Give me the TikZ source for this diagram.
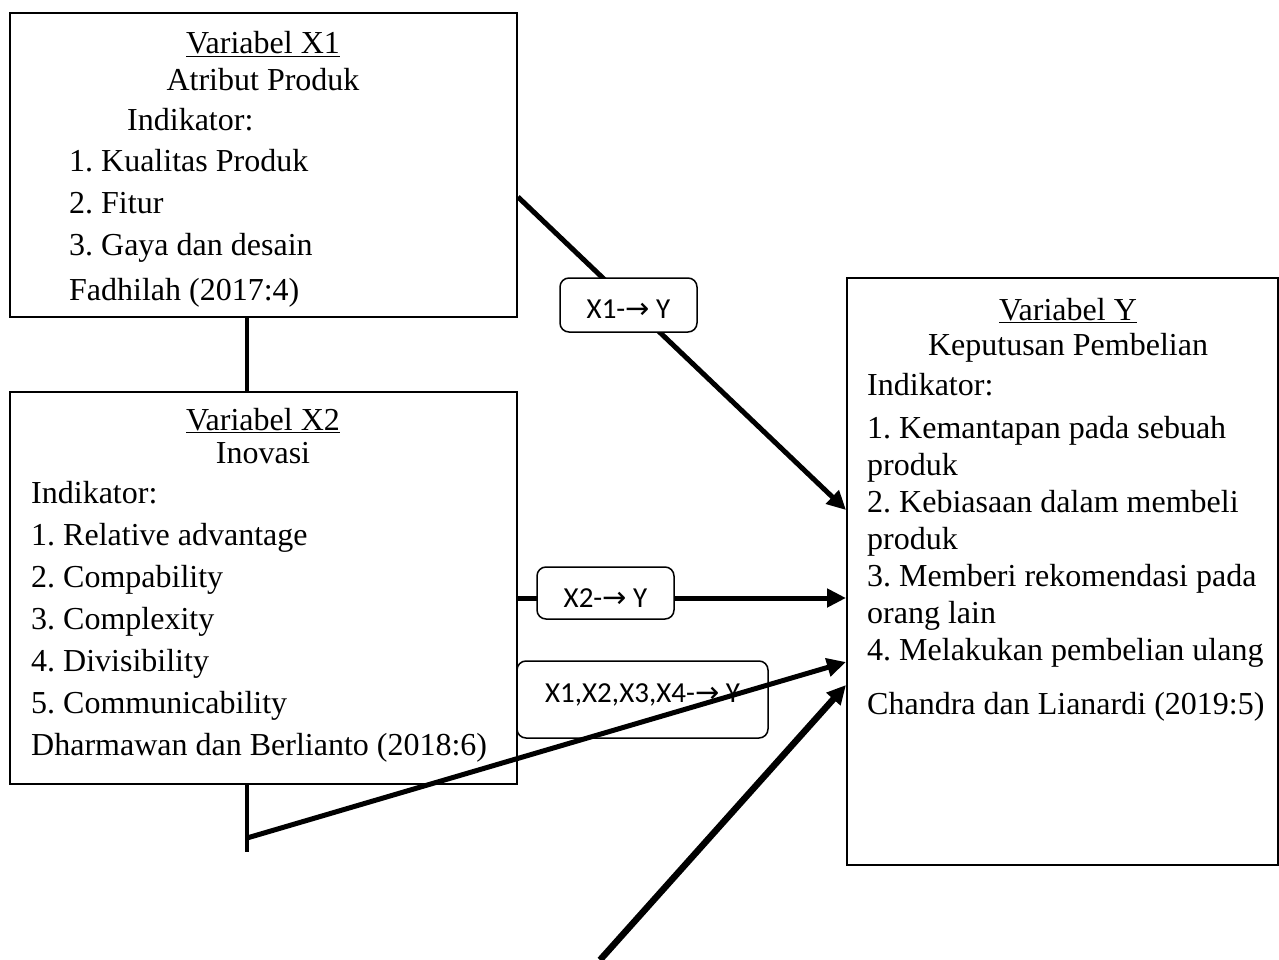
\documentclass[tikz,border=0pt]{standalone}
\usepackage{fontspec}
\setmainfont{Liberation Serif}
\newfontfamily\labelfont{Carlito}
\newfontfamily\arrowfont{DejaVu Sans}
\frenchspacing
\usetikzlibrary{arrows.meta}

\begin{document}
\begin{tikzpicture}[x=1pt, y=-1pt,
        varbox/.style={draw, line width=2pt, inner sep=0pt},
        vartext/.style={inner sep=0pt, font=\fontsize{32}{42}\selectfont},
        pathlabel/.style={draw, line width=1.5pt, rounded corners=9pt, fill=white, inner sep=0pt, font=\labelfont\fontsize{29}{35}\selectfont},
        link/.style={line width=4.5pt},
        effect/.style={line width=5pt, -{Triangle[length=19pt, width=18pt]}}]
        \useasboundingbox (0,0) rectangle (1279,960);

        % boxes, text anchored at the baseline of the last line
        \node[varbox, minimum width=507pt, minimum height=304pt] (x1box) at (263.5,165) {};
        \node[vartext, anchor=base, align=center] (x1title) at (263,91) {\underline{Variabel X1}\\[-5pt]Atribut Produk};
        \node[vartext, anchor=base west, align=left] (x1list) at (69,300) {\hspace*{58pt}Indikator:\\[-1pt]1. Kualitas Produk\\2. Fitur\\3. Gaya dan desain\\[3pt]Fadhilah (2017:4)};

        \node[varbox, minimum width=507pt, minimum height=392pt] (x2box) at (263.5,588) {};
        \node[vartext, anchor=base, align=center] (x2title) at (263,463) {\underline{Variabel X2}\\[-9pt]Inovasi};
        \node[vartext, anchor=base west, align=left] (x2list) at (31,755) {Indikator:\\1. Relative advantage\\2. Compability\\3. Complexity\\4. Divisibility\\5. Communicability\\Dharmawan dan Berlianto (2018:6)};

        \node[varbox, minimum width=431pt, minimum height=587pt] (ybox) at (1062.5,571.5) {};
        \node[vartext, anchor=base, align=center, font=\fontsize{32}{37}\selectfont] (ytitle) at (1068,355) {\underline{Variabel Y}\\[-2pt]Keputusan Pembelian};
        \node[vartext, anchor=base west, align=left, font=\fontsize{32}{37}\selectfont] (ylist) at (867,714) {Indikator:\\[6pt]1. Kemantapan pada sebuah\\produk\\2. Kebiasaan dalam membeli\\produk\\3. Memberi rekomendasi pada\\orang lain\\4. Melakukan pembelian ulang\\[17pt]Chandra dan Lianardi (2019:5)};

        \node[pathlabel, minimum width=251pt, minimum height=77pt, text height=19pt, text depth=14pt] (lab3) at (642.5,699.5) {X1,X2,X3,X4-{\arrowfont →} Y};

        \coordinate (stem) at (247,0);
        \coordinate (joint) at (247,838);
        \coordinate (stemend) at (247,852);
        \coordinate (tail) at (600,960);

        \draw[link] (x1box.south -| stem) -- (x2box.north -| stem);
        \draw[link] (x2box.south -| stem) -- (stemend);
        \draw[effect] ([yshift=-32pt]x1box.east) -- (ybox.west |- 0,510);
        \draw[effect] ([yshift=-10pt]x2box.east) -- (ybox.west |- 0,598);
        \draw[effect] (joint) -- (ybox.west |- 0,662);
        \draw[effect, line width=6.5pt] (tail) -- (ybox.west |- 0,685);

        \node[pathlabel, minimum width=137pt, minimum height=54pt, text height=27pt, text depth=0pt] (lab1) at (628.5,305) {X1-{\arrowfont →} Y};
        \node[pathlabel, minimum width=137pt, minimum height=52pt, text height=28pt, text depth=0pt] (lab2) at (605.5,593) {X2-{\arrowfont →} Y};
    \end{tikzpicture}
\end{document}
